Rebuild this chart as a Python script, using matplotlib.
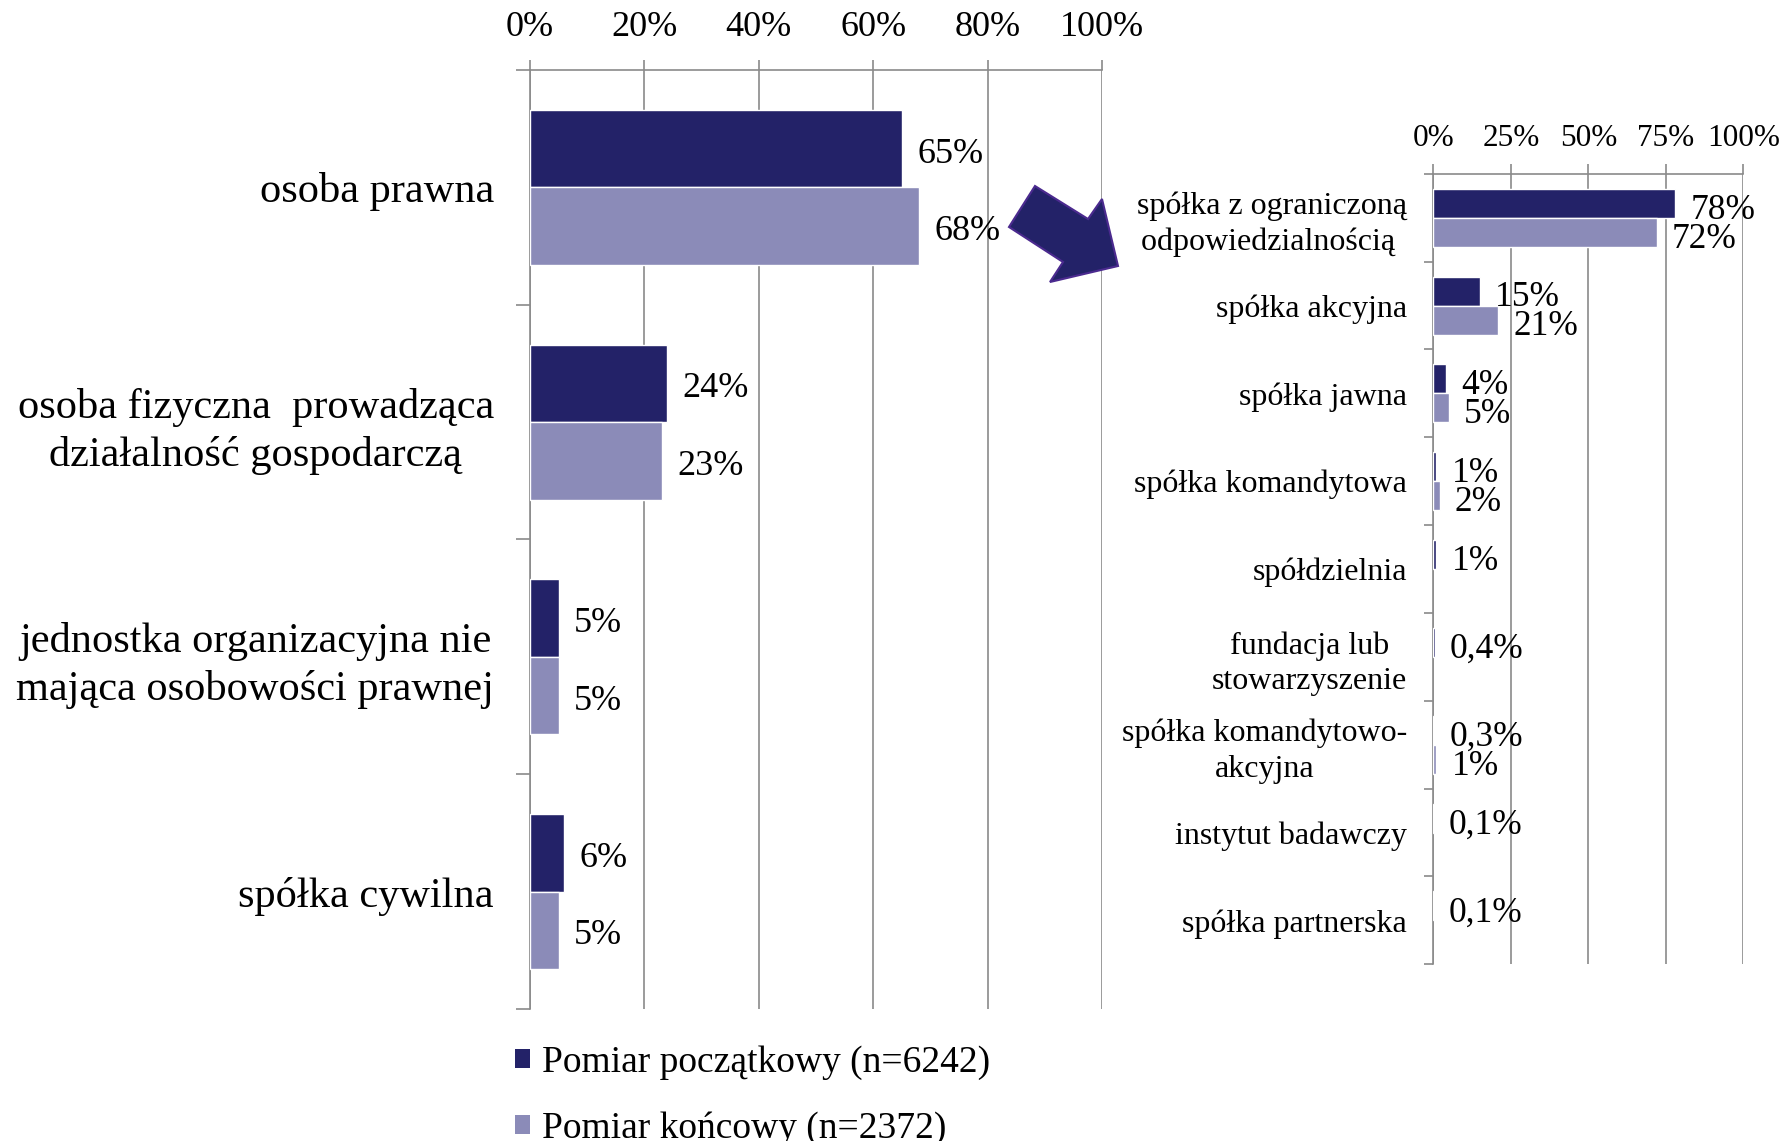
import numpy as np
import matplotlib
matplotlib.use('Agg')
import matplotlib.pyplot as plt
from matplotlib.patches import Polygon, Patch
from matplotlib.ticker import PercentFormatter

# left panel: forma prawna
left_cats = ['osoba prawna',
             'osoba fizyczna  prowadząca\ndziałalność gospodarczą',
             'jednostka organizacyjna nie\nmająca osobowości prawnej',
             'spółka cywilna']
left_start = [65, 24, 5, 6]
left_end = [68, 23, 5, 5]
left_ticks = [0, 20, 40, 60, 80, 100]

# right panel: breakdown of osoba prawna
right_cats = ['spółka z ograniczoną\nodpowiedzialnością ',
              'spółka akcyjna',
              'spółka jawna',
              'spółka komandytowa',
              'spółdzielnia',
              'fundacja lub\nstowarzyszenie',
              'spółka komandytowo-\nakcyjna',
              'instytut badawczy',
              'spółka partnerska']
right_start = [78, 15, 4, 1, 1, 0.4, 0.3, 0.1, 0.1]
right_end = [72, 21, 5, 2, np.nan, np.nan, 1, np.nan, np.nan]
right_ticks = [0, 25, 50, 75, 100]

series_names = ['Pomiar początkowy (n=6242)', 'Pomiar końcowy (n=2372)']

DARK = '#232268'
LIGHT = '#8b8bb8'
GRID = '#8a8a8a'

plt.rcParams['font.family'] = ['Liberation Serif', 'DejaVu Serif']

fig = plt.figure(figsize=(17.81, 11.41), dpi=100)


def fmt(v):
    if v < 1:
        return ('%.1f' % v).replace('.', ',') + '%'
    return '%d%%' % round(v)


def panel(ax, cats, start, end, ticks, tick_fs, cat_fs, val_fs, tick_pad, cat_pad, minor_len, dy, lsp):
    n = len(cats)
    y = np.arange(n)
    h = 0.33
    for vals, off, col in ((start, -h / 2, DARK), (end, h / 2, LIGHT)):
        vals = np.array(vals, dtype=float)
        ok = ~np.isnan(vals)
        ax.barh(y[ok] + off, vals[ok], height=h, color=col, edgecolor='white', linewidth=1, zorder=3)
        for i in y[ok]:
            ax.annotate(fmt(vals[i]), (vals[i], i + off), xytext=(11, dy), textcoords='offset points',
                        ha='left', va='center', fontsize=val_fs, zorder=4)
    ax.set_xlim(0, 100)
    ax.set_ylim(n - 0.5, -0.5)
    ax.xaxis.tick_top()
    ax.set_xticks(ticks)
    ax.xaxis.set_major_formatter(PercentFormatter(decimals=0))
    ax.set_yticks(y)
    ax.set_yticklabels(cats, fontsize=cat_fs, multialignment='center', linespacing=lsp)
    ax.set_yticks(np.arange(n + 1) - 0.5, minor=True)
    ax.tick_params(axis='x', which='major', direction='out', length=7, width=1.2, color=GRID,
                   labelsize=tick_fs, pad=tick_pad)
    ax.tick_params(axis='y', which='major', length=0, pad=cat_pad)
    ax.tick_params(axis='y', which='minor', direction='out', length=minor_len, width=1.2, color=GRID)
    ax.xaxis.grid(True, color=GRID, linewidth=1.2, zorder=0)
    ax.set_axisbelow(True)
    for s in ('right', 'bottom'):
        ax.spines[s].set_visible(False)
    for s in ('left', 'top'):
        ax.spines[s].set_color(GRID)
        ax.spines[s].set_linewidth(1.2)


axL = fig.add_axes([0.2976, 0.1157, 0.3212, 0.823])
panel(axL, left_cats, left_start, left_end, left_ticks, 26, 30.5, 26, 12, 26, 10, -4, 1.3)

axR = fig.add_axes([0.8048, 0.1549, 0.1741, 0.6928])
panel(axR, right_cats, right_start, right_end, right_ticks, 22.5, 23, 25.5, 8, 19, 6.5, -5, 1.3)

# block arrow pointing from left panel to right panel (figure pixels)
W, H = 1781.0, 1141.0
arrow_px = [(1035, 186), (1088, 219), (1102, 199), (1118, 266),
            (1050, 282), (1063, 262), (1009, 227)]
arrow = Polygon([(x / W, 1 - y / H) for x, y in arrow_px], closed=True,
                transform=fig.transFigure, facecolor=DARK, edgecolor='#4b2a8f', linewidth=1.5)
fig.patches.append(arrow)

handles = [Patch(facecolor=DARK), Patch(facecolor=LIGHT)]
fig.legend(handles, series_names, loc='upper left', bbox_to_anchor=(0.289, 0.084),
           frameon=False, fontsize=27, handlelength=0.42, handleheight=0.42,
           handletextpad=0.3, labelspacing=0.85, borderaxespad=0, borderpad=0)

fig.savefig('out.png', dpi=100)
